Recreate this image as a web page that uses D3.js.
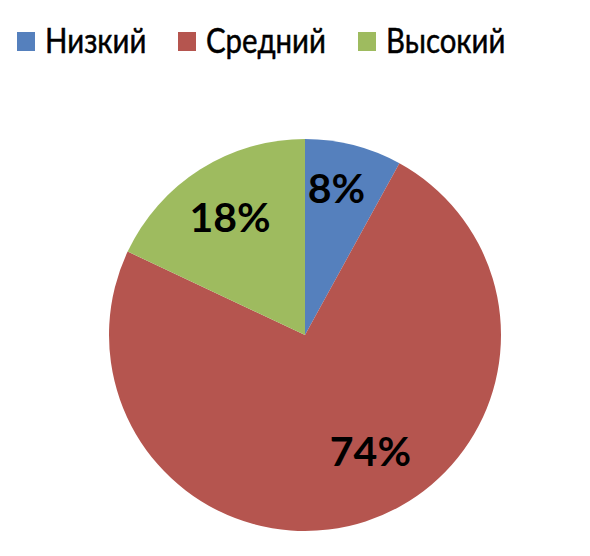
<!DOCTYPE html>
<html><head><meta charset="utf-8">
<script src="https://cdn.jsdelivr.net/npm/d3@7"></script>
<style>body{margin:0;background:#fff}</style>
</head><body>
<svg id="c" width="590" height="556"></svg>
<script>
const categories = ["Низкий", "Средний", "Высокий"];
const values = [8, 74, 18];
const colors = ["#5580BD", "#B5554F", "#9EBB5F"];

const svg = d3.select("#c");
const cx = 305, cy = 335, R = 196;
const pie = d3.pie().sort(null).value(d => d)(values);
const arc = d3.arc().innerRadius(0).outerRadius(R);
const labelR = 140;
// small angular nudge (radians) for label placement, like Excel's best fit
const nudge = [-0.04, -0.2, 0];
const g = svg.append("g").attr("transform", `translate(${cx},${cy})`);
g.selectAll("path").data(pie).join("path")
  .attr("d", arc).attr("fill", (d, i) => colors[i]);
g.selectAll("text").data(pie).join("text")
  .attr("transform", (d, i) => {
    const a = (d.startAngle + d.endAngle) / 2 + nudge[i];
    const r = i === 1 ? 133 : labelR + (i === 0 ? 10 : 0);
    return `translate(${r * Math.sin(a)},${-r * Math.cos(a)})`;
  })
  .attr("text-anchor", "middle").attr("dy", "0.36em")
  .attr("font-family", "Lato, 'Open Sans', sans-serif").attr("font-weight", "bold")
  .attr("font-size", 41).attr("fill", "#000")
  .text(d => d.data + "%");

const legendX = [17, 178, 358];
const lg = svg.append("g");
categories.forEach((c, i) => {
  lg.append("rect").attr("x", legendX[i]).attr("y", 32).attr("width", 18).attr("height", 19).attr("fill", colors[i]);
  lg.append("text").attr("transform", `translate(${legendX[i] + 28},53) scale(0.84,1)`)
    .attr("font-family", "Lato, sans-serif").attr("font-size", 35).attr("fill", "#000")
    .attr("stroke", "#000").attr("stroke-width", 0.5).text(c);
});
</script>
</body></html>
